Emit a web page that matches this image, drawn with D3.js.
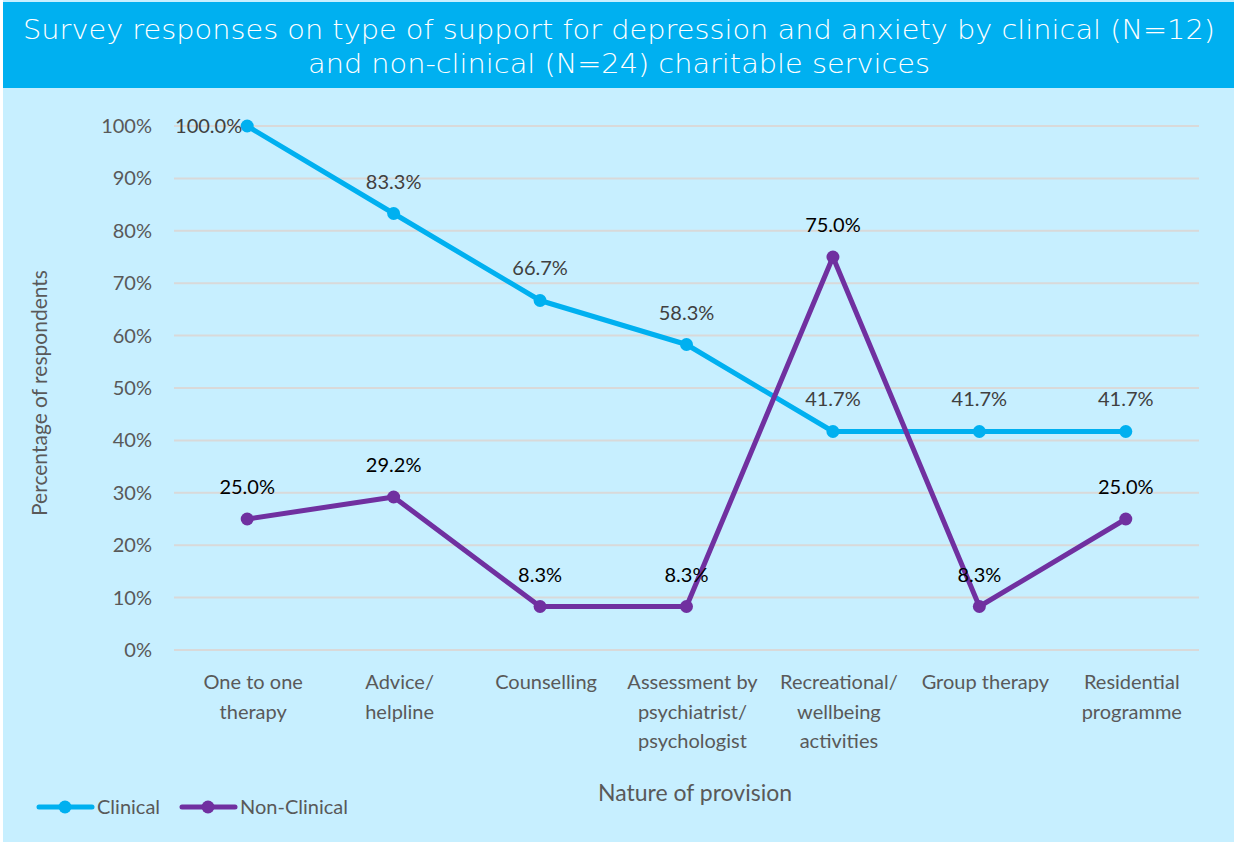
<!DOCTYPE html>
<html>
<head>
<meta charset="utf-8">
<script src="https://cdn.jsdelivr.net/npm/d3@7"></script>
<style>
  body { margin: 0; background: #ffffff; }
  svg text { font-family: Lato, "Open Sans", sans-serif; }
</style>
</head>
<body>
<div class="chart"></div>
<script>
// data
var categories = [
  ["One to one", "therapy"],
  ["Advice/", "helpline"],
  ["Counselling"],
  ["Assessment by", "psychiatrist/", "psychologist"],
  ["Recreational/", "wellbeing", "activities"],
  ["Group therapy"],
  ["Residential", "programme"]
];
var clinical = [100.0, 83.3, 66.7, 58.3, 41.7, 41.7, 41.7];
var nonClinical = [25.0, 29.2, 8.3, 8.3, 75.0, 8.3, 25.0];
var yTicks = [0, 10, 20, 30, 40, 50, 60, 70, 80, 90, 100];

var svgWidth = 1234;
var svgHeight = 845;

var margin = { top: 126, right: 35, bottom: 195, left: 174 };
var width = svgWidth - margin.left - margin.right;
var height = svgHeight - margin.top - margin.bottom;

var svg = d3.select(".chart")
  .append("svg")
  .attr("width", svgWidth)
  .attr("height", svgHeight);

// backgrounds
svg.append("rect")
  .attr("x", 3).attr("y", 0)
  .attr("width", svgWidth - 3).attr("height", svgHeight - 3)
  .attr("fill", "#c7efff");

svg.append("rect")
  .attr("x", 3).attr("y", 2)
  .attr("width", svgWidth - 3).attr("height", 86)
  .attr("fill", "#00b0f0");

// title in a wide light face, fitted to the reference width
var titleLines = [
  { text: "Survey responses on type of support for depression and anxiety by clinical (N=12)", y: 39, len: 1192 },
  { text: "and non-clinical (N=24) charitable services", y: 73, len: 622 }
];
svg.selectAll(".title")
  .data(titleLines)
  .enter()
  .append("text")
  .attr("class", "title")
  .attr("x", svgWidth / 2 + 2)
  .attr("y", d => d.y)
  .attr("text-anchor", "middle")
  .attr("fill", "#ffffff")
  .attr("textLength", d => d.len)
  .attr("lengthAdjust", "spacingAndGlyphs")
  .style("font-family", "'DejaVu Sans', sans-serif")
  .style("font-size", "26px")
  .style("font-weight", 200)
  .text(d => d.text);

var chartGroup = svg.append("g")
  .attr("transform", `translate(${margin.left}, ${margin.top})`);

// scales
var xScale = d3.scalePoint()
  .domain(d3.range(categories.length))
  .range([0, width])
  .padding(0.5);

var yScale = d3.scaleLinear()
  .domain([0, 100])
  .range([height, 0]);

// gridlines
chartGroup.selectAll(".grid")
  .data(yTicks)
  .enter()
  .append("line")
  .attr("x1", 0).attr("x2", width)
  .attr("y1", d => yScale(d)).attr("y2", d => yScale(d))
  .attr("stroke", "#d9d9d9")
  .attr("stroke-width", 2);

// y axis
var leftAxis = d3.axisLeft(yScale)
  .tickValues(yTicks)
  .tickFormat(d => d + "%")
  .tickSize(0)
  .tickPadding(22);

var yAxisG = chartGroup.append("g").call(leftAxis);
yAxisG.select(".domain").remove();
yAxisG.selectAll("text")
  .attr("fill", "#595959")
  .style("font-family", "Lato, sans-serif")
  .style("font-size", "20px");

// x axis labels
var xLabels = chartGroup.append("g")
  .selectAll("text")
  .data(categories)
  .enter()
  .append("text")
  .attr("text-anchor", "middle")
  .attr("fill", "#595959")
  .style("font-size", "20px");

xLabels.each(function(lines, i) {
  var t = d3.select(this);
  lines.forEach(function(l, j) {
    t.append("tspan")
      .attr("x", xScale(i) + 6)
      .attr("y", height + 39 + j * 29.5)
      .text(l);
  });
});

// axis titles
svg.append("text")
  .attr("transform", "rotate(-90)")
  .attr("x", -393)
  .attr("y", 47)
  .attr("text-anchor", "middle")
  .attr("fill", "#595959")
  .style("font-size", "21px")
  .text("Percentage of respondents");

svg.append("text")
  .attr("x", 695)
  .attr("y", 801)
  .attr("text-anchor", "middle")
  .attr("fill", "#595959")
  .style("font-size", "23px")
  .text("Nature of provision");

// lines
var line = d3.line()
  .x((d, i) => xScale(i))
  .y(d => yScale(d));

var series = [
  { name: "Clinical", values: clinical, color: "#00b0f0" },
  { name: "Non-Clinical", values: nonClinical, color: "#7030a0" }
];

series.forEach(function(s) {
  chartGroup.append("path")
    .datum(s.values)
    .attr("d", line)
    .attr("fill", "none")
    .attr("stroke", s.color)
    .attr("stroke-width", 5)
    .attr("stroke-linejoin", "round");

  chartGroup.selectAll(null)
    .data(s.values)
    .enter()
    .append("circle")
    .attr("cx", (d, i) => xScale(i))
    .attr("cy", d => yScale(d))
    .attr("r", 6.5)
    .attr("fill", s.color);
});

// data labels
chartGroup.selectAll(null)
  .data(clinical)
  .enter()
  .append("text")
  .attr("x", (d, i) => i === 0 ? xScale(i) - 5 : xScale(i))
  .attr("y", (d, i) => i === 0 ? yScale(d) + 7 : yScale(d) - 25)
  .attr("text-anchor", (d, i) => i === 0 ? "end" : "middle")
  .attr("fill", "#404040")
  .style("font-size", "20px")
  .text(d => d.toFixed(1) + "%");

chartGroup.selectAll(null)
  .data(nonClinical)
  .enter()
  .append("text")
  .attr("x", (d, i) => xScale(i))
  .attr("y", d => yScale(d) - 25)
  .attr("text-anchor", "middle")
  .attr("fill", "#000000")
  .style("font-size", "20px")
  .text(d => d.toFixed(1) + "%");

// legend
var legend = svg.append("g")
  .attr("transform", "translate(37, 807)");

var legendX = [0, 143];
series.forEach(function(s, i) {
  var g = legend.append("g").attr("transform", `translate(${legendX[i]}, 0)`);
  g.append("line")
    .attr("x1", 2).attr("x2", 55)
    .attr("y1", 0).attr("y2", 0)
    .attr("stroke", s.color)
    .attr("stroke-width", 5)
    .attr("stroke-linecap", "round");
  g.append("circle")
    .attr("cx", 28).attr("cy", 0)
    .attr("r", 6.5)
    .attr("fill", s.color);
  g.append("text")
    .attr("x", 60)
    .attr("y", 7)
    .attr("fill", "#595959")
    .style("font-size", "20px")
    .text(s.name);
});
</script>
</body>
</html>
